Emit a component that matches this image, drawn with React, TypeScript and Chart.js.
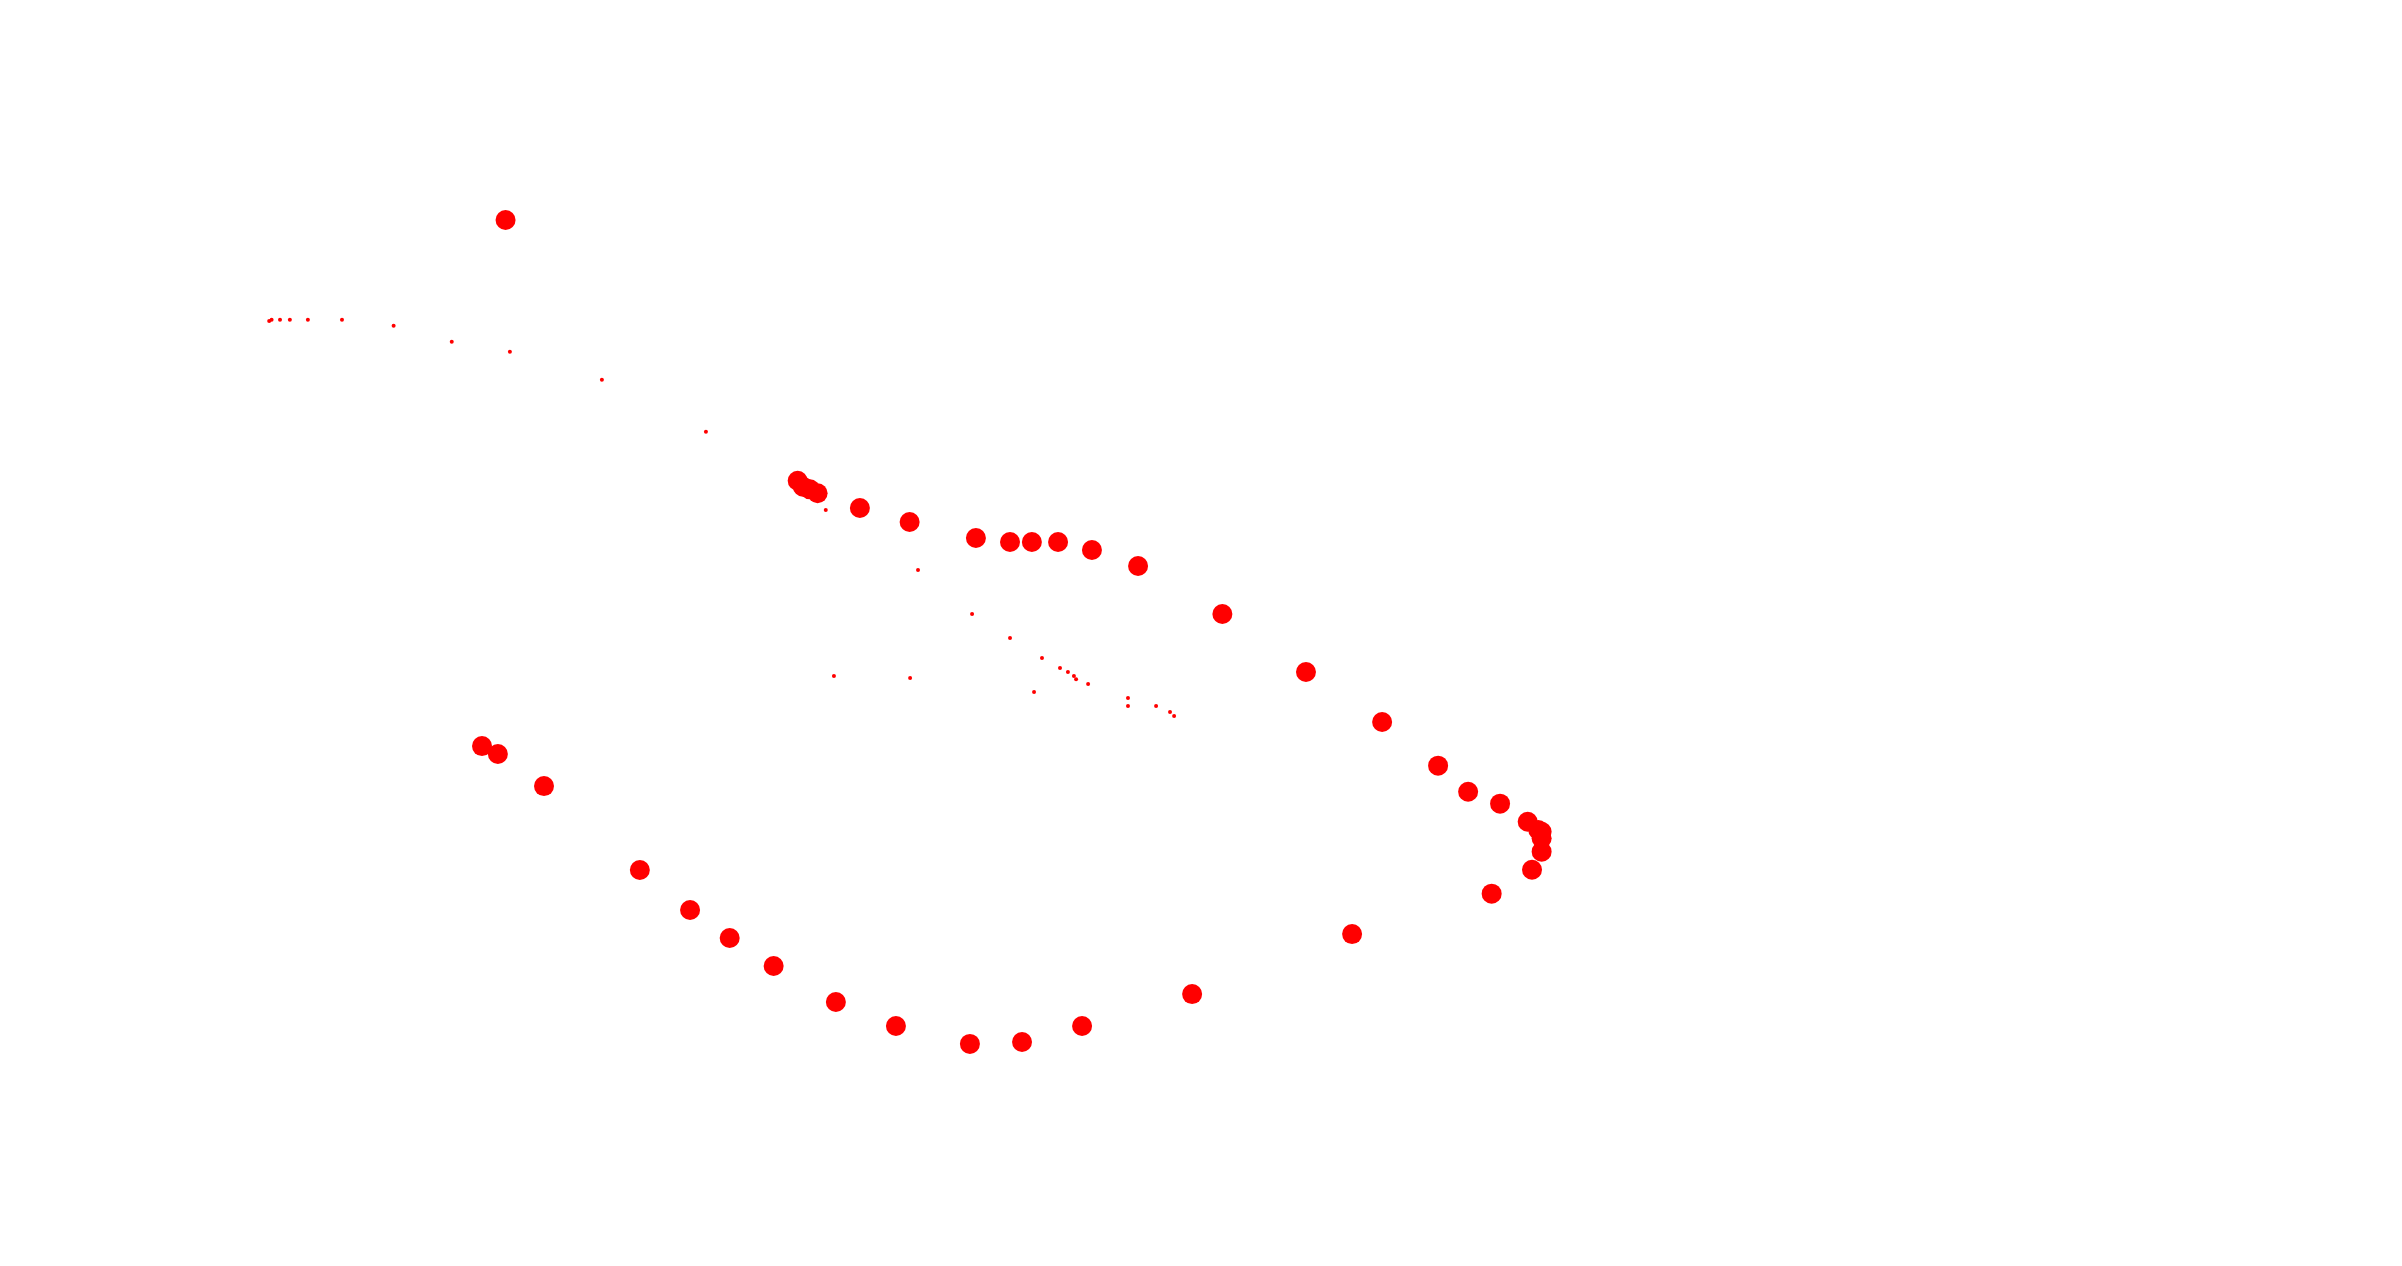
import React, { useEffect, useRef } from "react";
import { Chart, registerables } from "chart.js";

Chart.register(...registerables);

// Large markers (x, y)
const largeX = [
  21.05, 33.21, 33.43, 33.72, 34.04, 35.8, 37.87, 40.63, 42.05, 42.96, 44.05, 45.46, 47.38,
  50.89, 54.37, 57.54, 59.87, 61.12, 62.45, 63.6, 64.04, 64.18, 64.18, 64.18, 63.78, 62.1,
  56.29, 49.63, 45.05, 42.55, 40.38, 37.3, 34.8, 32.21, 30.38, 28.73, 26.64, 22.65, 20.73, 20.07,
];
const largeY = [
  82.62, 62.03, 61.56, 61.35, 61.04, 59.87, 58.77, 57.5, 57.19, 57.19, 57.19, 56.56, 55.29,
  51.5, 46.92, 42.97, 39.52, 37.46, 36.52, 35.09, 34.44, 34.3, 33.78, 32.73, 31.3, 29.41,
  26.22, 21.48, 18.96, 17.69, 17.54, 18.96, 20.85, 23.7, 25.91, 28.12, 31.28, 37.91, 40.44, 41.07,
];

// Small markers (x, y)
const smallX = [
  11.21, 11.31, 11.66, 12.07, 12.82, 14.24, 16.39, 18.81, 21.23, 25.06, 29.39, 34.38, 38.22,
  40.47, 42.05, 43.38, 44.13, 44.46, 44.71, 44.8, 45.3, 34.72, 37.89, 43.05, 46.96, 46.96,
  48.13, 48.71, 48.88,
];
const smallY = [
  74.64, 74.75, 74.75, 74.75, 74.75, 74.75, 74.27, 73.01, 72.22, 70.01, 65.9, 59.72, 54.98,
  51.5, 49.61, 48.03, 47.24, 46.92, 46.6, 46.34, 45.97, 46.6, 46.45, 45.34, 44.87, 44.23,
  44.23, 43.76, 43.44,
];

const X_MIN = 0.42;
const X_MAX = 99.58;
const Y_MIN = 0.79;
const Y_MAX = 99.21;

export default function App() {
  const ref = useRef<HTMLCanvasElement | null>(null);

  useEffect(() => {
    if (!ref.current) return;
    const large = largeX.map((x, i) => ({ x, y: largeY[i] }));
    const small = smallX.map((x, i) => ({ x, y: smallY[i] }));
    const chart = new Chart(ref.current, {
      type: "scatter",
      data: {
        datasets: [
          {
            label: "small",
            data: small,
            backgroundColor: "#ff0000",
            borderWidth: 0,
            pointRadius: 2,
          },
          {
            label: "large",
            data: large,
            backgroundColor: "#ff0000",
            borderWidth: 0,
            pointRadius: 10,
          },
        ],
      },
      options: {
        animation: false,
        responsive: true,
        maintainAspectRatio: false,
        layout: { padding: 0 },
        plugins: {
          legend: { display: false },
          tooltip: { enabled: false },
          title: { display: false },
        },
        scales: {
          x: { type: "linear", display: false, min: X_MIN, max: X_MAX },
          y: { type: "linear", display: false, min: Y_MIN, max: Y_MAX },
        },
      },
    });
    return () => chart.destroy();
  }, []);

  return (
    <div
      style={{
        position: "absolute",
        left: 0,
        top: 0,
        width: 2402,
        height: 1266,
        background: "#ffffff",
      }}
    >
      <canvas ref={ref} />
    </div>
  );
}
